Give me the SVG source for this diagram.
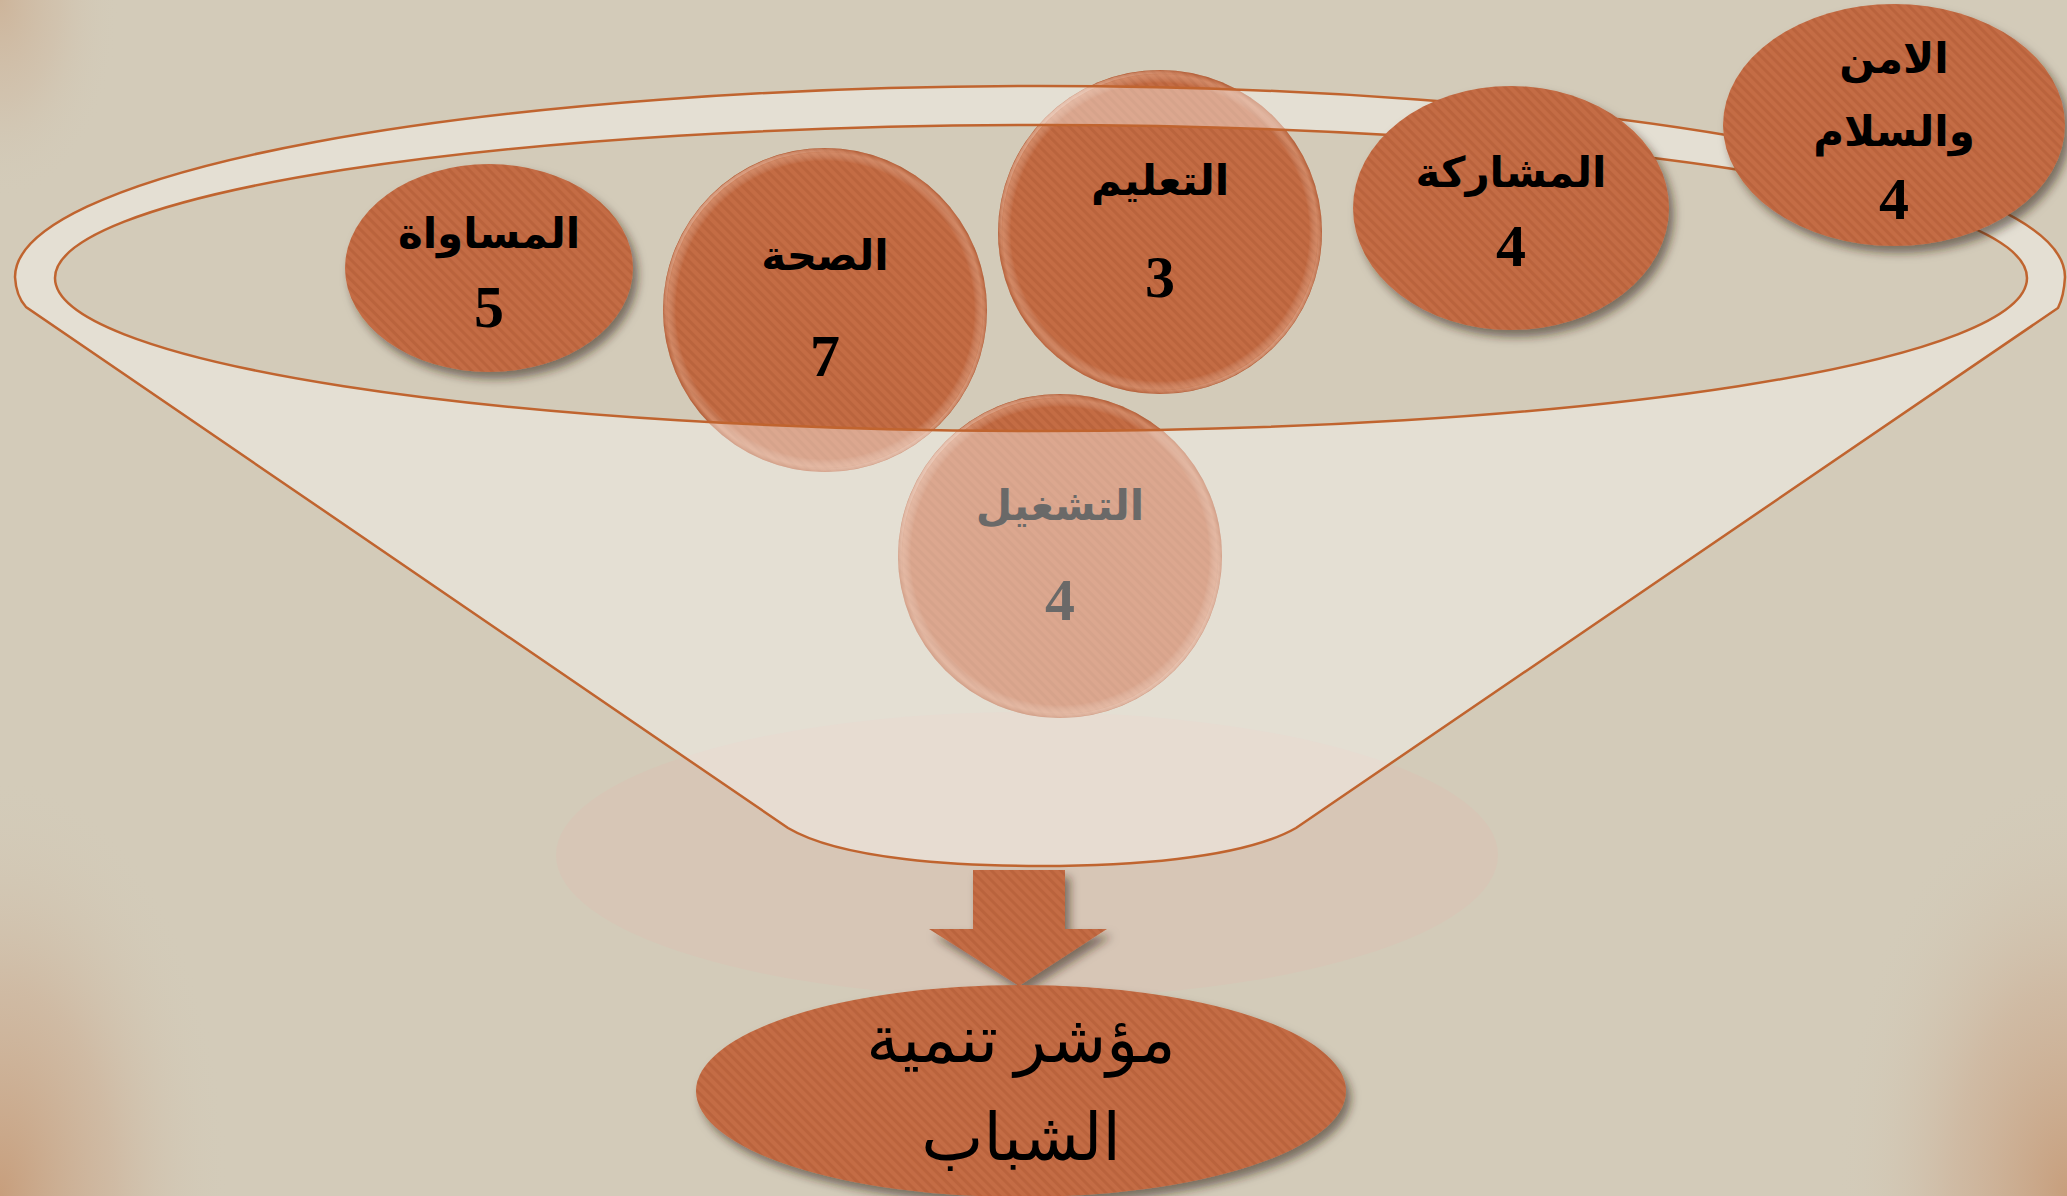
<svg xmlns="http://www.w3.org/2000/svg" width="2067" height="1196" viewBox="0 0 2067 1196">
<style>
.lbl{font-family:"Liberation Serif","DejaVu Sans",serif;font-weight:bold;fill:#000;text-anchor:middle}
.ar{font-size:42px}
.num{font-size:60px}
.big{font-family:"Liberation Serif","DejaVu Sans",serif;font-weight:normal;font-size:66px;fill:#000;text-anchor:middle}
.tex{fill:url(#tex)}
.bevel{fill:url(#bev)}
.rimline{fill:none;stroke:#c0642f;stroke-width:2.5}
</style>
<defs>
<radialGradient id="vig" cx="0.5" cy="0.5" r="0.5">
<stop offset="0" stop-color="#c79e7c" stop-opacity="1"/>
<stop offset="0.5" stop-color="#cdb096" stop-opacity="0.6"/>
<stop offset="1" stop-color="#d3cbb9" stop-opacity="0"/>
</radialGradient>
<pattern id="tex" width="7" height="7" patternUnits="userSpaceOnUse" patternTransform="rotate(-45)">
<rect width="7" height="7" fill="#c46c44"/>
<rect width="3" height="7" fill="#b35d37" opacity="0.55"/>
</pattern>
<radialGradient id="bev" cx="0.5" cy="0.5" r="0.5">
<stop offset="0" stop-color="#ffffff" stop-opacity="0"/>
<stop offset="0.92" stop-color="#ffffff" stop-opacity="0"/>
<stop offset="0.97" stop-color="#f6cdb4" stop-opacity="0.3"/>
<stop offset="1" stop-color="#a24f2a" stop-opacity="0.4"/>
</radialGradient>
<linearGradient id="hl" x1="0" y1="0" x2="1" y2="1">
<stop offset="0" stop-color="#ffe6d6" stop-opacity="0.7"/>
<stop offset="0.3" stop-color="#ffe6d6" stop-opacity="0"/>
<stop offset="0.7" stop-color="#ffe6d6" stop-opacity="0"/>
<stop offset="1" stop-color="#ffe6d6" stop-opacity="0.5"/>
</linearGradient>
<filter id="sh" x="-20%" y="-20%" width="150%" height="150%">
<feDropShadow dx="5" dy="7" stdDeviation="5" flood-color="#2e2015" flood-opacity="0.55"/>
</filter>
</defs>

<rect width="2067" height="1196" fill="#d3cbb9"/>
<ellipse cx="0" cy="1196" rx="230" ry="420" fill="url(#vig)"/>
<ellipse cx="2067" cy="1196" rx="230" ry="420" fill="url(#vig)"/>
<ellipse cx="0" cy="0" rx="120" ry="200" fill="url(#vig)" opacity="0.5"/>
<ellipse cx="1027" cy="855" rx="471" ry="143" fill="#d7c6b6"/>

<g id="node-taaleem">
<circle cx="1160" cy="232" r="162" class="tex"/>
<circle cx="1160" cy="232" r="162" class="bevel"/>
<circle cx="1160" cy="232" r="160" fill="none" stroke="url(#hl)" stroke-width="3"/>
<text class="lbl ar" x="1160" y="195">التعليم</text>
<text class="lbl num" x="1160" y="297">3</text>
</g>

<g id="node-sehha">
<circle cx="825" cy="310" r="162" class="tex"/>
<circle cx="825" cy="310" r="162" class="bevel"/>
<circle cx="825" cy="310" r="160" fill="none" stroke="url(#hl)" stroke-width="3"/>
<text class="lbl ar" x="825" y="270">الصحة</text>
<text class="lbl num" x="825" y="376">7</text>
</g>

<g id="node-tashgheel">
<circle cx="1060" cy="556" r="162" class="tex"/>
<circle cx="1060" cy="556" r="162" class="bevel"/>
<circle cx="1060" cy="556" r="160" fill="none" stroke="url(#hl)" stroke-width="3"/>
<text class="lbl ar" x="1060" y="520">التشغيل</text>
<text class="lbl num" x="1060" y="620">4</text>
</g>

<g id="funnel">
<path fill="#fdfbf9" fill-opacity="0.42" fill-rule="evenodd" d="M15,277 A1025,191 0 0 1 2065,277 Q2064,296 2058,308 L1296,828 C1240,860 1120,866 1041,866 C960,866 842,860 788,828 L26,307 Q16,296 15,277 Z M55,278 A986,153 0 1 0 2027,278 A986,153 0 1 0 55,278 Z"/>
<path class="rimline" d="M15,277 A1025,191 0 0 1 2065,277 Q2064,296 2058,308 L1296,828 C1240,860 1120,866 1041,866 C960,866 842,860 788,828 L26,307 Q16,296 15,277 Z"/>
<ellipse class="rimline" cx="1041" cy="278" rx="986" ry="153"/>
</g>

<g id="node-musawat">
<ellipse cx="489" cy="268" rx="144" ry="104" class="tex" filter="url(#sh)"/>
<text class="lbl ar" x="489" y="248">المساواة</text>
<text class="lbl num" x="489" y="327">5</text>
</g>

<g id="node-musharaka">
<ellipse cx="1511" cy="208" rx="158" ry="122" class="tex" filter="url(#sh)"/>
<text class="lbl ar" x="1511" y="187">المشاركة</text>
<text class="lbl num" x="1511" y="266">4</text>
</g>

<g id="node-amn">
<ellipse cx="1894" cy="125" rx="171" ry="121" class="tex" filter="url(#sh)"/>
<text class="lbl ar" x="1894" y="73">الامن</text>
<text class="lbl ar" x="1894" y="146">والسلام</text>
<text class="lbl num" x="1894" y="219">4</text>
</g>

<g id="connectors">
<path class="tex" filter="url(#sh)" d="M973,870 L1065,870 L1065,929 L1107,929 L1019,986 L929,929 L973,929 Z"/>
</g>

<g id="node-index">
<ellipse cx="1021" cy="1091" rx="325" ry="106" class="tex" filter="url(#sh)"/>
<text class="big" x="1021" y="1062">مؤشر تنمية</text>
<text class="big" x="1021" y="1160">الشباب</text>
</g>
</svg>
